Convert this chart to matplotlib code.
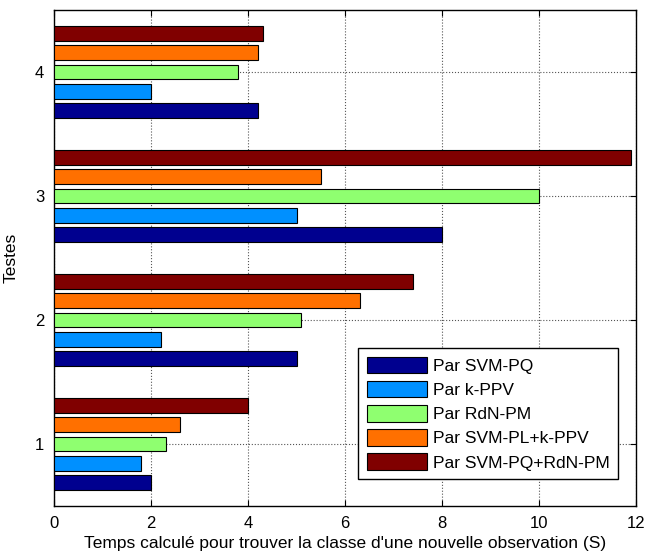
import numpy as np
import matplotlib
matplotlib.use("Agg")
import matplotlib.pyplot as plt

plt.rcParams['font.family'] = ['Liberation Sans', 'DejaVu Sans']

# Data
tests = [1, 2, 3, 4]
series_names = ["Par SVM-PQ", "Par k-PPV", "Par RdN-PM",
                "Par SVM-PL+k-PPV", "Par SVM-PQ+RdN-PM"]
svm_pq = [2.0, 5.0, 8.0, 4.2]
k_ppv = [1.8, 2.2, 5.0, 2.0]
rdn_pm = [2.3, 5.1, 10.0, 3.8]
svm_pl_kppv = [2.6, 6.3, 5.5, 4.2]
svm_pq_rdn = [4.0, 7.4, 11.9, 4.3]
x_ticks = [0, 2, 4, 6, 8, 10, 12]

values = [svm_pq, k_ppv, rdn_pm, svm_pl_kppv, svm_pq_rdn]
colors = ["#00008F", "#0090FF", "#8FFF70", "#FF7000", "#800000"]

fig = plt.figure(figsize=(6.49, 5.56), dpi=100)
ax = fig.add_axes([54 / 649, 1 - 506 / 556, 582 / 649, 496 / 556])

step = 0.155
height = 0.12
y = np.array(tests, dtype=float)
for i, (vals, col, name) in enumerate(zip(values, colors, series_names)):
    offset = (i - 2) * step
    ax.barh(y + offset, vals, height=height, color=col, edgecolor="black",
            linewidth=0.8, label=name, zorder=3)

ax.set_xlim(0, 12)
ax.set_ylim(0.5, 4.5)
ax.set_xticks(x_ticks)
ax.set_yticks(tests)
ax.tick_params(direction="in", length=4, top=True, right=True,
               labelsize=12, width=0.8, colors="black")
ax.tick_params(axis="x", pad=7)
ax.tick_params(axis="y", pad=7)
ax.grid(True, linestyle=":", color="#555555", linewidth=0.8, zorder=0)
ax.set_axisbelow(True)
for s in ax.spines.values():
    s.set_linewidth(1.0)

ax.set_xlabel("Temps calculé pour trouver la classe d'une nouvelle observation (S)",
              fontsize=12.5, labelpad=4)
ax.set_ylabel("Testes", fontsize=12.5, labelpad=12)

leg = ax.legend(loc="lower right", bbox_to_anchor=(0.969, 0.054),
                borderaxespad=0, fontsize=12.5, fancybox=False,
                edgecolor="black", framealpha=1, handlelength=3.5,
                handleheight=1.1, labelspacing=0.4, handletextpad=0.3,
                borderpad=0.5)
leg.get_frame().set_linewidth(1.0)

fig.savefig("out.png", dpi=100)
